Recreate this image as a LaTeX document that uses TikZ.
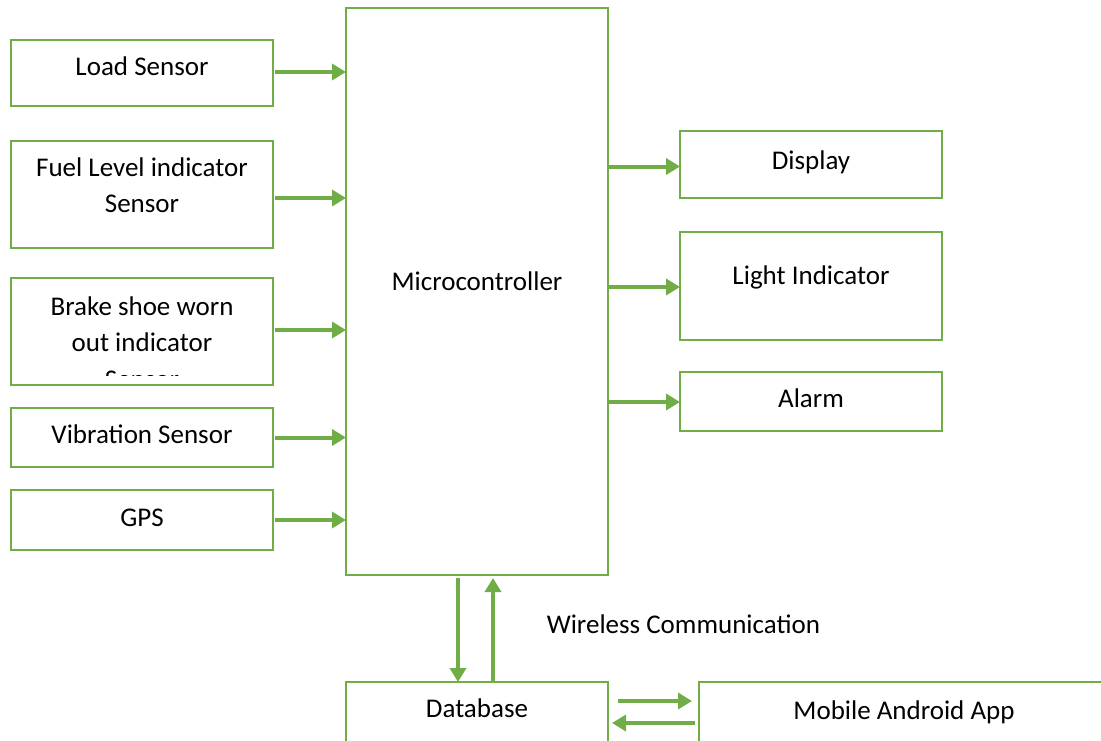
\documentclass[tikz,border=0pt]{standalone}
\usepackage{fontspec}
\setmainfont{Carlito}
\usetikzlibrary{arrows.meta,positioning}
\definecolor{zielony}{HTML}{70AD47}

\begin{document}
\begin{tikzpicture}[x=1pt,y=-1pt,
  blok/.style={
  % The shape:
  rectangle,
  % The size:
  minimum width=262pt,
  inner sep=0pt,
  outer sep=0pt,
  % The border:
  line width=2.8pt,
  draw=zielony
  },
  opis/.style={
  % Font
  font=\fontsize{27}{36.5}\selectfont,
  align=center,
  inner sep=0pt
  },
  strzalka/.style={
  line width=4pt,
  draw=zielony,
  -{Triangle[length=14pt,width=16pt]}
  }]
  \useasboundingbox (0,0) rectangle (1101,740);

  \node (micro) [blok,minimum height=567pt] at (477,291.5) {};
  \node (microT) [opis] at ([yshift=10.5pt]micro.center) {Microcontroller};

  % wejscia
  \node (load) [blok,minimum height=66pt] at (142,73) {};
  \node (fuel) [blok,minimum height=107pt,below=35pt of load] {};
  \node (brake) [blok,minimum height=107pt,below=30pt of fuel] {};
  \node (vib) [blok,minimum height=59pt,below=23pt of brake] {};
  \node (gps) [blok,minimum height=60pt,below=23pt of vib] {};

  \node (loadT) [opis] at ([yshift=6.5pt]load.center) {Load Sensor};
  \node (fuelT) [opis] at ([yshift=9.5pt]fuel.center) {Fuel Level indicator\\Sensor};
  \begin{scope}
    \clip ([yshift=10pt]brake.south west) rectangle (brake.north east);
    \node (brakeT) [opis] at ([yshift=-11pt]brake.center) {Brake shoe worn\\out indicator\\Sensor};
  \end{scope}
  \node (vibT) [opis] at ([yshift=3.5pt]vib.center) {Vibration Sensor};
  \node (gpsT) [opis] at ([yshift=2.3pt]gps.center) {GPS};

  \draw[strzalka] ([xshift=2pt,yshift=1pt]load.east) to ([yshift=1pt]load.east -| micro.west);
  \draw[strzalka] ([xshift=2pt,yshift=-3.5pt]fuel.east) to ([yshift=-3.5pt]fuel.east -| micro.west);
  \draw[strzalka] ([xshift=2pt,yshift=1.5pt]brake.east) to ([yshift=1.5pt]brake.east -| micro.west);
  \draw[strzalka] ([xshift=2pt]vib.east) to (vib.east -| micro.west);
  \draw[strzalka] ([xshift=2pt]gps.east) to (gps.east -| micro.west);

  % wyjscia
  \node (disp) [blok,minimum height=67pt] at (811,164.5) {};
  \node (light) [blok,minimum height=108pt,below=34pt of disp] {};
  \node (alarm) [blok,minimum height=59pt,below=32pt of light] {};

  \node (dispT) [opis] at ([yshift=2.3pt]disp.center) {Display};
  \node (lightT) [opis] at ([yshift=8.8pt]light.center) {Light Indicator};
  \node (alarmT) [opis] at ([yshift=3.6pt]alarm.center) {Alarm};

  \draw[strzalka] ([yshift=-2pt]micro.east |- disp.west) to ([yshift=-2pt]disp.west);
  \draw[strzalka] ([yshift=-1pt]micro.east |- light.west) to ([yshift=-1pt]light.west);
  \draw[strzalka] ([yshift=-0.5pt]micro.east |- alarm.west) to ([yshift=-0.5pt]alarm.west);

  % baza i aplikacja
  \node (db) [blok,minimum height=80pt,below=107pt of micro] {};
  \node (app) [blok,minimum width=420pt,minimum height=80pt,right=91pt of db] {};
  \node (dbT) [opis] at ([yshift=-26pt]db.north) {Database};
  \node (appT) [opis] at ([xshift=205pt,yshift=-30pt]app.north west) {Mobile Android App};
  \node (wireless) [opis] at (683.4,624) {Wireless Communication};

  \draw[strzalka] ([xshift=-19pt,yshift=-3pt]micro.south) to ([xshift=-19pt]db.north);
  \draw[strzalka] ([xshift=16pt]db.north) to ([xshift=16pt,yshift=-3pt]micro.south);
  \draw[strzalka] ([xshift=10pt,yshift=-19pt]db.north east) to ([xshift=-7pt,yshift=-19pt]app.north west);
  \draw[strzalka] ([xshift=-4pt,yshift=-41pt]app.north west) to ([xshift=4pt,yshift=-41pt]db.north east);
\end{tikzpicture}
\end{document}
